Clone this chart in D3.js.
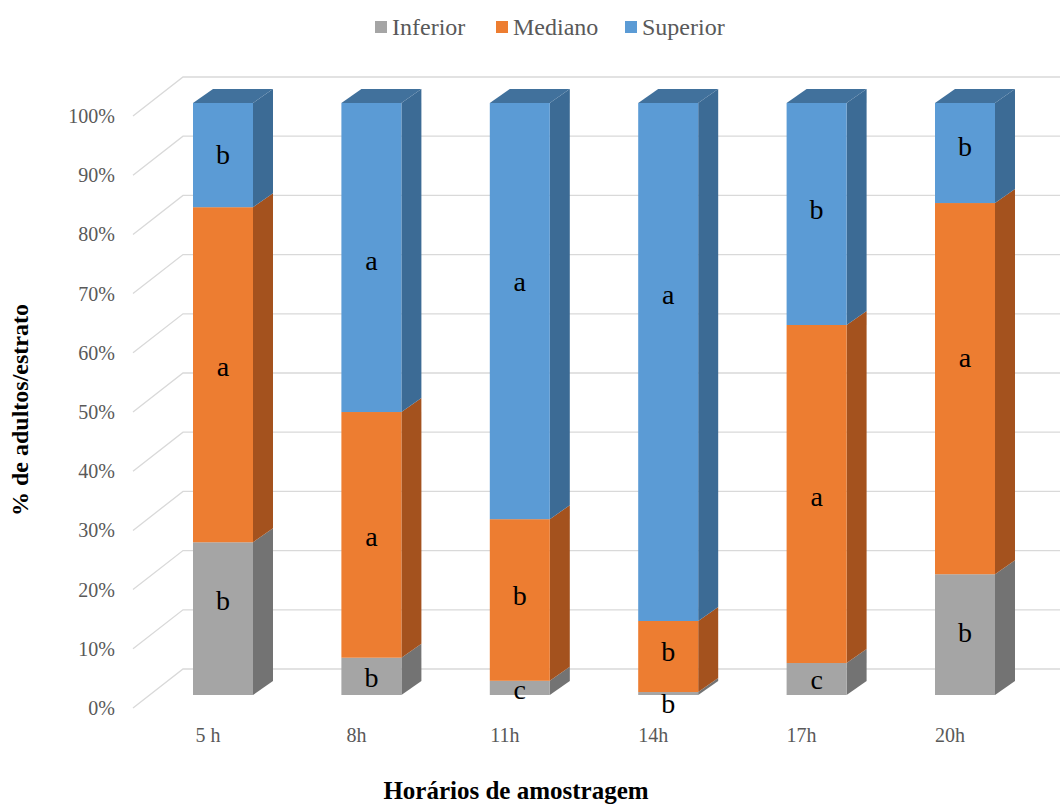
<!DOCTYPE html>
<html>
<head>
<meta charset="utf-8">
<script src="https://cdn.jsdelivr.net/npm/d3@7"></script>
<style>
  html, body { margin: 0; padding: 0; background: #fff; }
  svg { display: block; }
</style>
</head>
<body>
<div id="chart"></div>
<script>
// Share of adults per stratum at each sampling hour
const categories = ["5 h", "8h", "11h", "14h", "17h", "20h"];
const seriesNames = ["Inferior", "Mediano", "Superior"];
const inferior = [25.8, 6.3, 2.4, 0.5, 5.4, 20.4];
const mediano  = [56.6, 41.5, 27.3, 12.0, 57.1, 62.7];
const superior = [17.6, 52.2, 70.3, 87.5, 37.5, 16.9];

// Significance letters for each stratum
const inferiorLetters = ["b", "b", "c", "b", "c", "b"];
const medianoLetters  = ["a", "a", "b", "b", "a", "a"];
const superiorLetters = ["b", "a", "a", "a", "b", "b"];
// Where each letter sits, in % on the value axis
const inferiorLetterAt = [15.9, 2.9, 0.8, -1.5, 2.5, 10.5];
const medianoLetterAt  = [55.4, 26.7, 16.7, 7.3, 33.4, 56.9];
const superiorLetterAt = [91.2, 73.3, 69.8, 67.6, 81.9, 92.6];

const tickValues = [0, 10, 20, 30, 40, 50, 60, 70, 80, 90, 100];

const W = 1060, H = 805;
const colors = {
  Inferior: { front: "#a5a5a5", side: "#737373", top: "#8a8a8a" },
  Mediano:  { front: "#ed7d31", side: "#a4521e", top: "#c0652a" },
  Superior: { front: "#5b9bd5", side: "#3c6b95", top: "#41719c" }
};
const textGray = "#595959";
const serif = "'Liberation Serif', 'Times New Roman', serif";

const svg = d3.select("#chart").append("svg")
  .attr("width", W).attr("height", H);

// value scale for the front face of the bars
const y = d3.scaleLinear().domain([0, 100]).range([695, 103]);
const x = d3.scalePoint().domain(categories).range([223, 965]);
const barW = 60;
// depth of a bar (projected)
const bdx = 20, bdy = -14;
// gridline geometry: floor/wall projection
const gFrontX = 133, gBackX = 183, gFrontOff = 13, gBackOff = -26;

// gridlines: diagonal on the side wall, then horizontal on the back wall
const grid = svg.append("g");
tickValues.forEach(v => {
  const yf = y(v) + gFrontOff, yb = y(v) + gBackOff;
  grid.append("path")
    .attr("d", `M${gFrontX},${yf}L${gBackX},${yb}L${W},${yb}`)
    .attr("fill", "none")
    .attr("stroke", "#d9d9d9")
    .attr("stroke-width", 1.3);
});

// tick labels
svg.append("g").selectAll("text").data(tickValues).join("text")
  .attr("x", 115)
  .attr("y", d => y(d) + gFrontOff)
  .attr("dy", "0.35em")
  .attr("text-anchor", "end")
  .attr("font-family", serif)
  .attr("font-size", 20)
  .attr("fill", textGray)
  .text(d => d + "%");

// stacked data
const rows = categories.map((c, i) => ({
  cat: c,
  Inferior: inferior[i], Mediano: mediano[i], Superior: superior[i]
}));
const stacked = d3.stack().keys(seriesNames)(rows);

const bars = svg.append("g");
categories.forEach((c, i) => {
  const g = bars.append("g");
  const x0 = x(c) - barW / 2, x1 = x0 + barW;
  stacked.forEach((layer, li) => {
    const [v0, v1] = layer[i];
    const col = colors[layer.key];
    const yt = y(v1), yb = y(v0);
    if (v1 - v0 <= 0) return;
    // right side face
    g.append("path")
      .attr("d", `M${x1},${yb}L${x1 + bdx},${yb + bdy}L${x1 + bdx},${yt + bdy}L${x1},${yt}Z`)
      .attr("fill", col.side);
    // front face
    g.append("rect")
      .attr("x", x0).attr("y", yt)
      .attr("width", barW).attr("height", yb - yt)
      .attr("fill", col.front);
    // top face on the last segment
    if (li === stacked.length - 1) {
      g.append("path")
        .attr("d", `M${x0},${yt}L${x0 + bdx},${yt + bdy}L${x1 + bdx},${yt + bdy}L${x1},${yt}Z`)
        .attr("fill", col.top);
    }
  });
});

// significance letters
const letterSets = [
  [inferiorLetters, inferiorLetterAt],
  [medianoLetters, medianoLetterAt],
  [superiorLetters, superiorLetterAt]
];
const letters = svg.append("g");
letterSets.forEach(([txt, at]) => {
  categories.forEach((c, i) => {
    letters.append("text")
      .attr("x", x(c))
      .attr("y", y(at[i]) + 9)
      .attr("text-anchor", "middle")
      .attr("font-family", serif)
      .attr("font-size", 28)
      .attr("fill", "#000")
      .text(txt[i]);
  });
});

// category labels
svg.append("g").selectAll("text").data(categories).join("text")
  .attr("x", d => x(d) - 15)
  .attr("y", 735)
  .attr("dy", "0.35em")
  .attr("text-anchor", "middle")
  .attr("font-family", serif)
  .attr("font-size", 20)
  .attr("fill", textGray)
  .text(d => d);

// axis titles
svg.append("text")
  .attr("x", 516).attr("y", 799)
  .attr("text-anchor", "middle")
  .attr("font-family", serif)
  .attr("font-weight", "bold")
  .attr("font-size", 25)
  .attr("fill", "#000")
  .text("Horários de amostragem");

svg.append("text")
  .attr("transform", "translate(28,410) rotate(-90)")
  .attr("text-anchor", "middle")
  .attr("font-family", serif)
  .attr("font-weight", "bold")
  .attr("font-size", 24)
  .attr("fill", "#000")
  .text("% de adultos/estrato");

// legend
const legendX = [375, 496, 625];
const legend = svg.append("g");
seriesNames.forEach((name, i) => {
  legend.append("rect")
    .attr("x", legendX[i]).attr("y", 21)
    .attr("width", 12).attr("height", 12)
    .attr("fill", colors[name].front);
  legend.append("text")
    .attr("x", legendX[i] + 17).attr("y", 27)
    .attr("dy", "0.35em")
    .attr("font-family", serif)
    .attr("font-size", 24)
    .attr("fill", textGray)
    .text(name);
});
</script>
</body>
</html>
